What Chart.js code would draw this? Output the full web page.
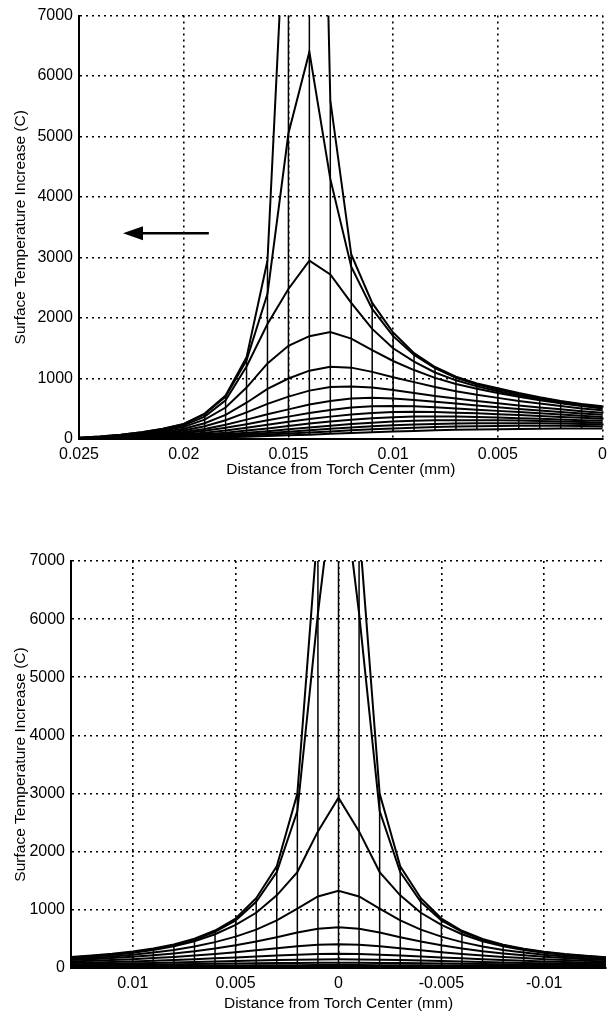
<!DOCTYPE html>
<html lang="en">
<head>
  <meta charset="UTF-8" />
  <title>Surface Temperature Increase</title>
  <script src="https://cdn.jsdelivr.net/npm/chart.js@4"></script>
  <style>
    body { margin: 0; background: #fff; }
    .plot { position: absolute; left: 0; width: 613px; }
    #topPlot { top: 0; height: 490px; }
    #botPlot { top: 520px; height: 500px; }
  </style>
</head>
<body>
<div class="plot" id="topPlot"><canvas id="topChart"></canvas></div>
<div class="plot" id="botPlot"><canvas id="botChart"></canvas></div>

<script>
  // shared y axis
  const yTicks = [0, 1000, 2000, 3000, 4000, 5000, 6000, 7000];

  // ---------- top plot (torch near 0.014) ----------
  const xTop = [0.025, 0.024, 0.023, 0.022, 0.021, 0.02, 0.019, 0.018, 0.017, 0.016, 0.015, 0.014, 0.013,
    0.012, 0.011, 0.01, 0.009, 0.008, 0.007, 0.006, 0.005, 0.004, 0.003, 0.002, 0.001, 0];
  const xTicksTop = [0.025, 0.02, 0.015, 0.01, 0.005, 0];

  const top1 = [20, 40, 70, 110, 170, 250, 420, 720, 1350, 2950, 10000, 21000, 5600, 3050, 2250, 1760, 1420, 1190, 1030, 920, 840, 760, 690, 630, 580, 540];
  const top2 = [20, 40, 70, 110, 165, 245, 410, 700, 1300, 2400, 5050, 6400, 4300, 2850, 2150, 1700, 1390, 1170, 1010, 900, 820, 745, 680, 620, 570, 530];
  const top3 = [15, 35, 60, 100, 150, 225, 370, 640, 1200, 1900, 2480, 2950, 2720, 2250, 1820, 1500, 1280, 1100, 970, 870, 790, 720, 660, 600, 555, 515];
  const top4 = [15, 30, 55, 90, 135, 200, 320, 520, 850, 1250, 1540, 1700, 1770, 1660, 1470, 1290, 1140, 1010, 910, 830, 760, 700, 640, 590, 545, 505];
  const top5 = [10, 25, 45, 75, 115, 170, 260, 400, 600, 830, 1000, 1130, 1195, 1180, 1110, 1020, 940, 860, 790, 730, 680, 630, 585, 545, 505, 475];
  const top6 = [10, 20, 40, 65, 95, 140, 210, 310, 440, 580, 700, 800, 860, 870, 850, 810, 760, 710, 670, 630, 590, 555, 520, 490, 460, 435];
  const top7 = [8, 18, 32, 55, 80, 115, 165, 235, 320, 410, 490, 570, 630, 670, 680, 670, 645, 615, 585, 555, 525, 495, 470, 445, 420, 400];
  const top8 = [6, 15, 28, 45, 65, 95, 135, 185, 245, 310, 370, 430, 480, 520, 540, 545, 540, 525, 505, 485, 465, 445, 425, 405, 385, 365];
  const top9 = [5, 12, 22, 36, 52, 75, 105, 140, 185, 235, 285, 330, 370, 405, 430, 445, 450, 445, 435, 425, 410, 395, 380, 365, 350, 335];
  const top10 = [4, 10, 18, 28, 42, 58, 80, 105, 140, 175, 215, 255, 290, 320, 345, 360, 370, 372, 370, 365, 355, 345, 335, 322, 310, 300];
  const top11 = [3, 8, 14, 22, 32, 45, 60, 80, 105, 130, 160, 190, 220, 248, 270, 288, 300, 308, 312, 312, 310, 305, 298, 290, 280, 270];
  const top12 = [2, 6, 10, 16, 24, 33, 45, 60, 78, 98, 120, 145, 168, 190, 210, 227, 240, 250, 256, 260, 262, 262, 260, 256, 250, 244];
  const top13 = [2, 4, 7, 12, 18, 25, 34, 45, 58, 73, 90, 108, 126, 144, 160, 175, 188, 198, 206, 212, 216, 218, 219, 218, 216, 212];
  const top14 = [1, 3, 5, 8, 12, 17, 23, 30, 39, 49, 60, 72, 85, 98, 110, 122, 133, 143, 151, 158, 163, 167, 170, 172, 173, 173];

  // arrow drawn on the top plot (data units)
  const arrowTail = [0.0188, 3400];
  const arrowTip = [0.0229, 3400];

  // ---------- bottom plot (torch at 0) ----------
  const xBot = [0.013, 0.012, 0.011, 0.01, 0.009, 0.008, 0.007, 0.006, 0.005, 0.004, 0.003, 0.002, 0.001, 0,
    -0.001, -0.002, -0.003, -0.004, -0.005, -0.006, -0.007, -0.008, -0.009, -0.01, -0.011, -0.012, -0.013];
  const xTicksBot = [0.01, 0.005, 0, -0.005, -0.01];

  const bot1 = [190, 215, 245, 285, 335, 405, 505, 645, 850, 1200, 1750, 3000, 7600, 40000, 7600, 3000, 1750, 1200, 850, 640, 500, 400, 330, 280, 240, 210, 185];
  const bot2 = [180, 205, 234, 272, 322, 390, 485, 620, 820, 1140, 1650, 2700, 6100, 9000, 6100, 2700, 1650, 1140, 820, 620, 485, 390, 322, 272, 234, 205, 180];
  const bot3 = [172, 196, 225, 262, 310, 375, 460, 580, 740, 950, 1250, 1650, 2350, 2930, 2350, 1650, 1250, 950, 740, 580, 460, 375, 310, 262, 225, 196, 172];
  const bot4 = [155, 174, 198, 228, 265, 310, 370, 445, 540, 660, 820, 1020, 1230, 1330, 1230, 1020, 820, 660, 540, 445, 370, 310, 265, 228, 198, 174, 155];
  const bot5 = [137, 152, 170, 192, 218, 250, 288, 335, 390, 455, 530, 610, 675, 700, 675, 610, 530, 455, 390, 335, 288, 250, 218, 192, 170, 152, 137];
  const bot6 = [113, 124, 137, 152, 170, 191, 215, 242, 272, 305, 340, 375, 400, 410, 400, 375, 340, 305, 272, 242, 215, 191, 170, 152, 137, 124, 113];
  const bot7 = [86, 94, 103, 113, 124, 137, 151, 166, 182, 198, 215, 230, 240, 245, 240, 230, 215, 198, 182, 166, 151, 137, 124, 113, 103, 94, 86];
  const bot8 = [64, 69, 75, 81, 88, 95, 103, 111, 120, 128, 136, 143, 148, 150, 148, 143, 136, 128, 120, 111, 103, 95, 88, 81, 75, 69, 64];
  const bot9 = [46, 49, 52, 56, 60, 64, 68, 72, 76, 80, 84, 87, 89, 90, 89, 87, 84, 80, 76, 72, 68, 64, 60, 56, 52, 49, 46];
  const bot10 = [29, 30, 32, 34, 36, 38, 40, 42, 44, 46, 48, 49, 50, 50, 50, 49, 48, 46, 44, 42, 40, 38, 36, 34, 32, 30, 29];
  const bot11 = [13, 14, 14, 15, 16, 16, 17, 18, 18, 19, 19, 20, 20, 20, 20, 20, 19, 19, 18, 18, 17, 16, 16, 15, 14, 14, 13];

  const tickFont = { family: "'Liberation Sans', Arial, sans-serif", size: 16 };
  const titleFont = { family: "'Liberation Sans', Arial, sans-serif", size: 15.5 };

  // curves + the mesh columns (lowest to highest curve at each x)
  function meshDatasets(xs, rows) {
    const cols = [];
    xs.forEach((x, i) => {
      const vals = rows.map(r => r[i]);
      cols.push({ x: x, y: Math.min(...vals) }, { x: x, y: Math.max(...vals) }, { x: x, y: null });
    });
    const sets = [{ data: cols, borderColor: '#000', borderWidth: 1.5, pointRadius: 0, spanGaps: false }];
    rows.forEach(r => {
      sets.push({
        data: xs.map((x, i) => ({ x: x, y: r[i] })),
        borderColor: '#000', borderWidth: 2, pointRadius: 0, tension: 0
      });
    });
    return sets;
  }

  const arrowPlugin = {
    id: 'arrow',
    afterDatasetsDraw(chart) {
      const { ctx, scales: { x, y } } = chart;
      const x0 = x.getPixelForValue(arrowTail[0]), y0 = y.getPixelForValue(arrowTail[1]);
      const x1 = x.getPixelForValue(arrowTip[0]), y1 = y.getPixelForValue(arrowTip[1]);
      ctx.save();
      ctx.strokeStyle = '#000';
      ctx.fillStyle = '#000';
      ctx.lineWidth = 2.5;
      ctx.beginPath();
      ctx.moveTo(x0, y0);
      ctx.lineTo(x1 + 15, y1);
      ctx.stroke();
      ctx.beginPath();
      ctx.moveTo(x1, y1);
      ctx.lineTo(x1 + 20, y1 - 7);
      ctx.lineTo(x1 + 20, y1 + 7);
      ctx.closePath();
      ctx.fill();
      ctx.restore();
    }
  };

  // area = wanted plot box inside the canvas (px)
  function drawPlot(id, xs, rows, xTicks, xMin, xMax, area, extra) {
    const canvas = document.getElementById(id);
    const h = canvas.parentNode.clientHeight;
    return new Chart(canvas, {
      type: 'line',
      data: { datasets: meshDatasets(xs, rows) },
      options: {
        responsive: true,
        maintainAspectRatio: false,
        animation: false,
        layout: { padding: { top: area.top, right: 613 - area.right, left: 0, bottom: 0 } },
        plugins: { legend: { display: false }, tooltip: { enabled: false } },
        scales: {
          x: {
            type: 'linear',
            reverse: true,
            min: xMin,
            max: xMax,
            afterFit: s => { s.height = h - area.bottom; },
            afterBuildTicks: s => { s.ticks = xTicks.map(v => ({ value: v })); },
            ticks: { callback: v => String(v), color: '#000', font: tickFont, padding: area.xPad, maxRotation: 0, autoSkip: false },
            grid: { color: '#000', lineWidth: 1.6, drawTicks: false },
            border: { color: '#000', width: 2, dash: [2, 4] },
            title: {
              display: true, text: 'Distance from Torch Center (mm)', color: '#000', font: titleFont,
              padding: { top: 0, bottom: area.titlePad }
            }
          },
          y: {
            type: 'linear',
            min: 0,
            max: 7000,
            afterFit: s => { s.width = area.left; },
            afterBuildTicks: s => { s.ticks = yTicks.map(v => ({ value: v })); },
            ticks: { callback: v => String(v), color: '#000', font: tickFont, padding: 6 },
            grid: { color: '#000', lineWidth: 1.6, drawTicks: false },
            border: { color: '#000', width: 2, dash: [2, 4] },
            title: {
              display: true, text: 'Surface Temperature Increase (C)', color: '#000', font: titleFont,
              padding: { top: 11, bottom: 0 }
            }
          }
        }
      },
      plugins: extra ? [extra] : []
    });
  }

  drawPlot('topChart', xTop,
    [top1, top2, top3, top4, top5, top6, top7, top8, top9, top10, top11, top12, top13, top14],
    xTicksTop, 0, 0.025,
    { left: 79, right: 608, top: 15, bottom: 439, xPad: 6, titlePad: 11 }, arrowPlugin);

  drawPlot('botChart', xBot,
    [bot1, bot2, bot3, bot4, bot5, bot6, bot7, bot8, bot9, bot10, bot11],
    xTicksBot, -0.013, 0.013,
    { left: 71, right: 606, top: 41, bottom: 448, xPad: 6, titlePad: 7 });
</script>
</body>
</html>
